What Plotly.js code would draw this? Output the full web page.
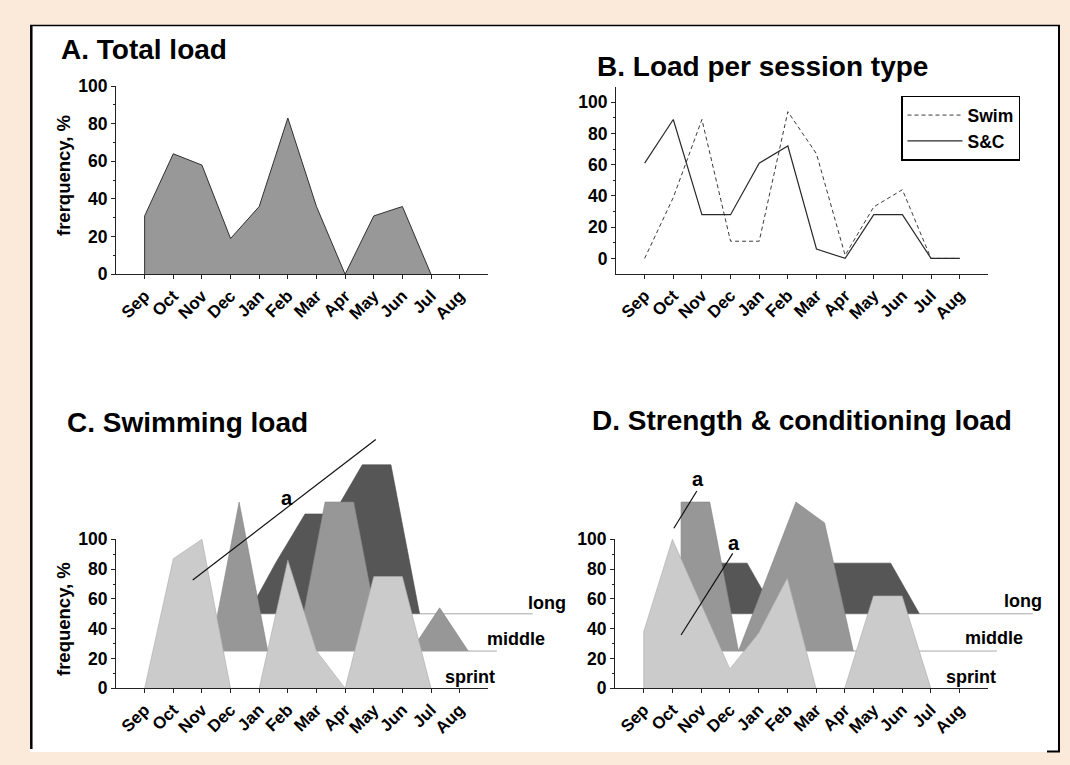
<!DOCTYPE html>
<html>
<head>
<meta charset="utf-8">
<script src="https://cdn.plot.ly/plotly-3.0.1.min.js"></script>
<style>
html,body{margin:0;padding:0;background:#fbe9da;}
#chart{width:1070px;height:765px;}
</style>
</head>
<body>
<div id="chart"></div>
<script>
// ---------------- data ----------------
const months = ['Sep','Oct','Nov','Dec','Jan','Feb','Mar','Apr','May','Jun','Jul','Aug'];
const totalLoad = [31, 64, 58, 19, 36, 83, 36, 0, 31, 36, 0, null];
const swimLoad  = [0, 39, 89, 11, 11, 94, 67, 2, 33, 44, 0, 0];
const scLoad    = [61, 89, 28, 28, 61, 72, 6, 0, 28, 28, 0, 0];
const swimSprint = [0, 87, 100, 0, 0, 86, 25, 0, 75, 75, 0, null];
const swimMiddle = [null, null, 0, 100, 0, 0, 100, 100, 0, 0, 29, 0];
const swimLong   = [null, null, null, 0, 35, 67, 67, 100, 100, 0, null, null];
const scSprint = [38, 100, 56, 13, 37, 74, 0, 0, 62, 62, 0, null];
const scMiddle = [null, 100, 100, 0, 50, 100, 86, 0, null, null, null, null];
const scLong   = [null, null, 34, 34, 0, 0, 34, 34, 34, 0, null, null];
const yTicks = [0, 20, 40, 60, 80, 100];
const yMinor = [10, 30, 50, 70, 90];
const layerNames = ['sprint', 'middle', 'long'];

// ---------------- styling / geometry ----------------
const W = 1070, H = 765;
const FONT = 'Liberation Sans, Arial, sans-serif';
const monthIdx = months.map((m, i) => i);
const SHIFT = {sprint: 0, middle: 0.3, long: 0.6};
const BASE = {sprint: 0, middle: 25, long: 50};
const EXT_END = {middle: 12.3, long: 13.55};
const COL = {sprint: '#cbcbcb', middle: '#979797', long: '#565656'};
const EDGE = {sprint: '#ababab', middle: '#858585', long: '#4a4a4a'};

function xdom(p0, p1) { return [p0 / W, p1 / W]; }
function ydom(pb, pt) { return [1 - pb / H, 1 - pt / H]; }

// polygon of one layer, built from its values
function layerPoly(vals, shift, base) {
  let first = -1, last = -1;
  vals.forEach((v, i) => { if (v !== null) { if (first < 0) first = i; last = i; } });
  const xs = [first + shift], ys = [base];
  for (let i = first; i <= last; i++) {
    if (vals[i] !== null) { xs.push(i + shift); ys.push(base + vals[i]); }
  }
  xs.push(last + shift); ys.push(base);
  return {xs, ys, first};
}

const traces = [];

// ---------- A ----------
const pa = layerPoly(totalLoad, 0, 0);
traces.push({type: 'scatter', mode: 'lines', x: pa.xs, y: pa.ys, fill: 'toself',
  fillcolor: '#989898', line: {color: '#303030', width: 1}, xaxis: 'x', yaxis: 'y',
  showlegend: false, hoverinfo: 'skip'});

// ---------- B ----------
traces.push({type: 'scatter', mode: 'lines', name: 'Swim', x: monthIdx, y: swimLoad,
  line: {color: '#3a3a3a', width: 1, dash: '4px,3px'}, xaxis: 'x2', yaxis: 'y2'});
traces.push({type: 'scatter', mode: 'lines', name: 'S&C', x: monthIdx, y: scLoad,
  line: {color: '#2a2a2a', width: 1.2}, xaxis: 'x2', yaxis: 'y2'});

// ---------- C & D layered areas ----------
function addLayers(sets, xa, ya) {
  ['long', 'middle', 'sprint'].forEach(name => {
    const vals = sets[name];
    const p = layerPoly(vals, SHIFT[name], BASE[name]);
    if (name !== 'sprint') {
      traces.push({type: 'scatter', mode: 'lines', x: [p.first + SHIFT[name], EXT_END[name]],
        y: [BASE[name], BASE[name]], line: {color: '#a8a8a8', width: 1},
        xaxis: xa, yaxis: ya, showlegend: false, hoverinfo: 'skip'});
    }
    traces.push({type: 'scatter', mode: 'lines', x: p.xs, y: p.ys, fill: 'toself',
      fillcolor: COL[name], line: {color: EDGE[name], width: 0.6},
      xaxis: xa, yaxis: ya, showlegend: false, hoverinfo: 'skip'});
  });
}
addLayers({sprint: swimSprint, middle: swimMiddle, long: swimLong}, 'x3', 'y3');
addLayers({sprint: scSprint, middle: scMiddle, long: scLong}, 'x4', 'y4');

// empty carrier traces so the visible C and D axes get drawn (above the areas)
traces.push({type: 'scatter', mode: 'lines', x: [null], y: [null], xaxis: 'x5', yaxis: 'y5', showlegend: false, hoverinfo: 'skip'});
traces.push({type: 'scatter', mode: 'lines', x: [null], y: [null], xaxis: 'x6', yaxis: 'y6', showlegend: false, hoverinfo: 'skip'});

// ---------------- axes ----------------
const tickFont = {family: FONT, size: 17, weight: 'bold', color: '#000'};
const yTickFont = {family: FONT, size: 17.5, weight: 'bold', color: '#000'};
function monthAxis(dom, anchor) {
  return {domain: dom, range: [-1, 12], anchor: anchor, tickmode: 'array',
    tickvals: monthIdx, ticktext: months, tickangle: -45, ticks: 'outside', ticklen: 4,
    tickcolor: '#222', showline: true, linecolor: '#222', linewidth: 1, showgrid: false,
    zeroline: false, tickfont: tickFont, fixedrange: true};
}
function valueAxis(dom, range, anchor, minorVals) {
  return {domain: dom, range: range, anchor: anchor, tickmode: 'array', tickvals: yTicks,
    ticks: 'outside', ticklen: 4, tickcolor: '#222', showline: true, linecolor: '#222',
    linewidth: 1, showgrid: false, zeroline: false, tickfont: yTickFont, fixedrange: true,
    minor: {tickmode: 'array', tickvals: minorVals, ticks: 'outside', ticklen: 2, tickcolor: '#222', showgrid: false}};
}
function hiddenAxis(dom, range, anchor) {
  return {domain: dom, range: range, anchor: anchor, visible: false, showgrid: false,
    zeroline: false, fixedrange: true};
}

const CA = {x0: 116, x1: 488.3, y0: 688.3, y100: 539.3};
const DA = {x0: 615, x1: 988.3, y0: 688.3, y100: 539.3};
const unitC = (CA.x1 - CA.x0) / 13, unitD = (DA.x1 - DA.x0) / 13;
const pyu = (CA.y0 - CA.y100) / 100;
const topVal = 170;

const layout = {
  width: W, height: H, margin: {l: 0, r: 0, t: 0, b: 0},
  paper_bgcolor: '#fbe9da', plot_bgcolor: 'rgba(0,0,0,0)',
  font: {family: FONT, color: '#000'},
  xaxis: monthAxis(xdom(116, 488.3), 'y'),
  yaxis: valueAxis(ydom(274.3, 86), [0, 100], 'x', yMinor),
  xaxis2: monthAxis(xdom(616, 988.3), 'y2'),
  yaxis2: valueAxis(ydom(274, 86.7), [-10, 110], 'x2', yMinor),
  xaxis3: hiddenAxis(xdom(CA.x0, CA.x0 + 15 * unitC), [-1, 14], 'y3'),
  yaxis3: hiddenAxis(ydom(CA.y0, CA.y0 - topVal * pyu), [0, topVal], 'x3'),
  xaxis4: hiddenAxis(xdom(DA.x0, DA.x0 + 15 * unitD), [-1, 14], 'y4'),
  yaxis4: hiddenAxis(ydom(DA.y0, DA.y0 - topVal * pyu), [0, topVal], 'x4'),
  xaxis5: monthAxis(xdom(CA.x0, CA.x1), 'y5'),
  yaxis5: valueAxis(ydom(CA.y0, CA.y100), [0, 100], 'x5', yMinor),
  xaxis6: monthAxis(xdom(DA.x0, DA.x1), 'y6'),
  yaxis6: valueAxis(ydom(DA.y0, DA.y100), [0, 100], 'x6', yMinor),
  showlegend: true,
  legend: {x: 901 / W, y: 1 - 95.7 / H, xanchor: 'left', yanchor: 'top', bgcolor: '#fff',
    bordercolor: '#000', borderwidth: 1.5, itemwidth: 55, traceorder: 'normal',
    font: {family: FONT, size: 17.5, weight: 'bold', color: '#000'}},
  shapes: [
    {type: 'rect', xref: 'paper', yref: 'paper', x0: 30 / W, x1: 1060 / W, y0: 1 - 752 / H, y1: 1 - 25 / H,
      fillcolor: '#fff', line: {width: 0}, layer: 'below'},
    {type: 'line', xref: 'paper', yref: 'paper', x0: 31.3 / W, x1: 31.3 / W, y0: 1 - 749 / H, y1: 1 - 25 / H,
      line: {color: '#000', width: 2.5}, layer: 'below'},
    {type: 'line', xref: 'paper', yref: 'paper', x0: 30 / W, x1: 1060 / W, y0: 1 - 25.5 / H, y1: 1 - 25.5 / H,
      line: {color: '#000', width: 1.5}, layer: 'below'},
    {type: 'line', xref: 'paper', yref: 'paper', x0: 1059 / W, x1: 1059 / W, y0: 1 - 752 / H, y1: 1 - 25 / H,
      line: {color: '#000', width: 2}, layer: 'below'},
    {type: 'line', xref: 'paper', yref: 'paper', x0: 1047 / W, x1: 1060 / W, y0: 1 - 751.5 / H, y1: 1 - 751.5 / H,
      line: {color: '#000', width: 2}, layer: 'below'},
    // "a" pointer lines
    {type: 'line', xref: 'x3', yref: 'y3', x0: 1.68, y0: 72.7, x1: 8.07, y1: 167, line: {color: '#111', width: 1.2}},
    {type: 'line', xref: 'x4', yref: 'y4', x0: 1.05, y0: 107.4, x1: 1.85, y1: 132.4, line: {color: '#111', width: 1.2}},
    {type: 'line', xref: 'x4', yref: 'y4', x0: 1.30, y0: 35.8, x1: 3.10, y1: 90.6, line: {color: '#111', width: 1.2}}
  ],
  annotations: []
};

const titleFont = {family: FONT, size: 28, weight: 'bold', color: '#000'};
function ptitle(text, px, py) {
  layout.annotations.push({text: text, xref: 'paper', yref: 'paper', x: px / W, y: 1 - py / H,
    xanchor: 'left', yanchor: 'middle', showarrow: false, font: titleFont});
}
ptitle('A. Total load', 59, 50);
ptitle('B. Load per session type', 595, 66);
ptitle('C. Swimming load', 65, 422);
ptitle('D. Strength &amp; conditioning load', 590, 420);

function ytitle(text, px, py) {
  layout.annotations.push({text: text, xref: 'paper', yref: 'paper', x: px / W, y: 1 - py / H,
    xanchor: 'center', yanchor: 'middle', textangle: -90, showarrow: false,
    font: {family: FONT, size: 18.5, weight: 'bold', color: '#000'}});
}
ytitle('frerquency, %', 64, 176);
ytitle('frequency, %', 63, 619);

const lblFont = {family: FONT, size: 18, weight: 'bold', color: '#000'};
function dlabel(text, xa, ya, x, y, size) {
  layout.annotations.push({text: text, xref: xa, yref: ya, x: x, y: y, xanchor: 'left',
    yanchor: 'middle', showarrow: false, font: Object.assign({}, lblFont, size ? {size: size} : {})});
}
// layer labels
dlabel(layerNames[2], 'x3', 'y3', 13.33, 57.2);
dlabel(layerNames[1], 'x3', 'y3', 11.87, 32.9);
dlabel(layerNames[0], 'x3', 'y3', 10.41, 7.6);
dlabel(layerNames[2], 'x4', 'y4', 12.46, 58.6);
dlabel(layerNames[1], 'x4', 'y4', 11.12, 33.6);
dlabel(layerNames[0], 'x4', 'y4', 10.45, 7.8);
// significance marks
dlabel('a', 'x3', 'y3', 4.70, 127.5, 20);
dlabel('a', 'x4', 'y4', 1.60, 140.3, 20);
dlabel('a', 'x4', 'y4', 2.88, 97.7, 20);

Plotly.newPlot('chart', traces, layout, {displayModeBar: false, staticPlot: true});
</script>
</body>
</html>
